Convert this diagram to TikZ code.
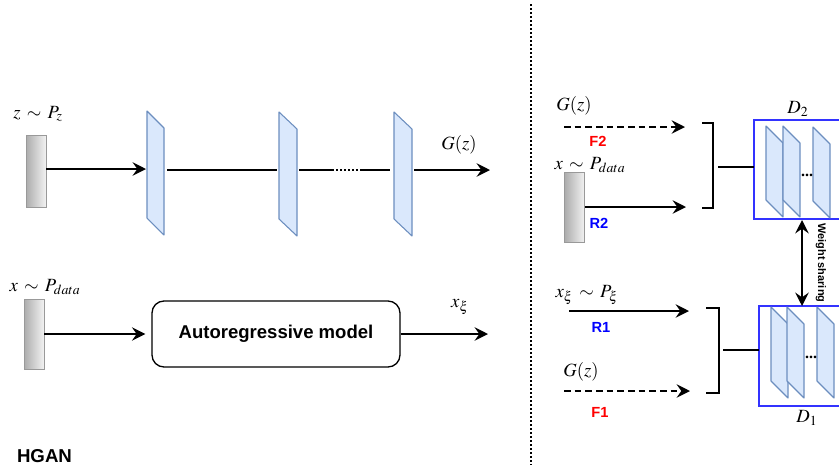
\documentclass[tikz,border=0pt]{standalone}
\usepackage{mathptmx}
\usepackage[no-math]{fontspec}
\setmainfont{Liberation Serif}
\setsansfont{Liberation Sans}
\usetikzlibrary{arrows.meta}
\definecolor{panelfill}{HTML}{DAE8FC}
\definecolor{paneldraw}{HTML}{6C8EBF}
\definecolor{dblue}{HTML}{3333FF}
\definecolor{fred}{HTML}{FF0000}
\definecolor{rblue}{HTML}{0000FF}
\tikzset{
  tip/.tip={Stealth[length=10pt,width=10pt,inset=3.5pt]},
  arr/.style={line width=1.6pt,-tip},
  dasharr/.style={arr,dash pattern=on 5pt off 3pt},
  plainline/.style={line width=1.6pt},
  panelst/.style={fill=panelfill,draw=paneldraw,line width=0.8pt,line join=round},
  bar/.style={draw=gray!80,line width=0.7pt,left color=gray!65,right color=gray!10,minimum width=15pt,inner sep=0pt},
  mlabel/.style={font=\fontsize{14}{16}\selectfont,inner sep=0pt},
  blabel/.style={font=\sffamily\bfseries\fontsize{11}{13}\selectfont,inner sep=0pt},
  dbox/.style={draw=dblue,line width=1.1pt},
}
\newcommand{\panelat}[4]{% x, y top-left, width, left height
  \draw[panelst] (#1,#2) -- ++(#3,17) -- ++(0,#4) -- ++(-#3,-17) -- cycle;}
\begin{document}
\begin{tikzpicture}[x=0.75pt,y=-0.75pt]
\useasboundingbox (0,0) rectangle (839,465);
% separator
\draw[line width=1.5pt,dash pattern=on 1.5pt off 1.5pt] (531,4) -- (531,465);

% ---------- left: generator ----------
\node[bar,minimum height=54pt] (zbar) at (36,171) {};
\node[mlabel] (zlab) at (38,114) {$z\,\sim\,P_z$};
\panelat{147}{111}{17}{107}
\panelat{279}{112}{18}{107}
\panelat{394}{112}{18}{107}
\coordinate (p1in) at (146,169);
\coordinate (p1out) at (167,170);
\coordinate (p2in) at (277,170);
\coordinate (p2out) at (299,170);
\coordinate (d1) at (332,170);
\coordinate (d2) at (362,170);
\coordinate (p3in) at (390,170);
\coordinate (p3out) at (414,170);
\coordinate (gout) at (490,170);
\draw[arr] (zbar.east |- p1in) -- (p1in);
\draw[plainline] (p1out) -- (p2in);
\draw[plainline] (p2out) -- (d1);
\draw[line width=1.5pt,dash pattern=on 1.5pt off 1.5pt] (d1) -- (d2);
\draw[plainline] (d2) -- (p3in);
\draw[arr] (p3out) -- (gout);
\node[mlabel] (gz1) at (459,145) {$G(z)$};

% ---------- left: autoregressive ----------
\node[bar,minimum height=53pt] (xbar) at (34,334.5) {};
\node[mlabel] (xlab) at (45,287) {$x\,\sim\,P_{data}$};
\node[draw,line width=1pt,rounded corners=9pt,minimum width=186pt,minimum height=49.5pt,
      font=\sffamily\bfseries\fontsize{13.9}{16}\selectfont] (ar) at (276,334) {Autoregressive model};
\coordinate (xout) at (488,334);
\draw[arr] (xbar.east |- ar.west) -- ([xshift=-4.5pt]ar.west);
\draw[arr] (ar.east) -- (xout);
\node[mlabel] (xxi) at (460,307) {$x_\xi$};
\node[font=\sffamily\bfseries\fontsize{14}{16}\selectfont,inner sep=0pt] (hgan) at (44.5,456) {HGAN};

% ---------- right: D2 ----------
\node[mlabel] (gz2) at (574,106) {$G(z)$};
\coordinate (f2s) at (564,127);
\coordinate (f2e) at (685,127);
\draw[dasharr] (f2s) -- (f2e);
\node[blabel,text=fred] (f2) at (598,141) {F2};
\node[mlabel] (xlab2) at (590,165) {$x\,\sim\,P_{data}$};
\node[bar,minimum height=53pt] (rbar) at (574.5,207.5) {};
\coordinate (r2e) at (686,207);
\draw[arr] (rbar.east |- r2e) -- (r2e);
\node[blabel,text=rblue] (r2) at (599,223) {R2};
\draw[plainline] (702,123) -- (713,123) -- (713,208) -- (702,208);
\draw[dbox] (754,120) rectangle (842,219);
\coordinate (d2box) at (754,167);
\draw[plainline] (718,167) -- (d2box);
\panelat{766}{126}{17}{74}
\panelat{783}{126}{17}{74}
\panelat{813}{127}{17}{74}
\node[inner sep=0pt,font=\bfseries\fontsize{12}{12}\selectfont] (dots2) at (807,175) {...};
\node[mlabel] (dtwo) at (798,109) {$D_2$};

% ---------- right: D1 ----------
\node[mlabel] (xxi2) at (587,295) {$x_\xi\,\sim\,P_\xi$};
\coordinate (r1s) at (569,311);
\coordinate (r1e) at (689,311);
\draw[arr] (r1s) -- (r1e);
\node[blabel,text=rblue] (r1) at (601,327) {R1};
\node[mlabel] (gz3) at (581,372) {$G(z)$};
\coordinate (f1s) at (564,391);
\coordinate (f1e) at (690,391);
\draw[dasharr] (f1s) -- (f1e);
\node[blabel,text=fred] (f1) at (600,412) {F1};
\draw[plainline] (706,308) -- (719,308) -- (719,393) -- (706,393);
\draw[dbox] (759,306) rectangle (842,406);
\coordinate (d1box) at (759,350);
\draw[plainline] (723,350) -- (d1box);
\panelat{771}{307}{17}{74}
\panelat{787}{307}{17}{74}
\panelat{817}{307}{17}{74}
\node[inner sep=0pt,font=\bfseries\fontsize{12}{12}\selectfont] (dots1) at (811,357) {...};
\node[mlabel] (done) at (807,418) {$D_1$};

% weight sharing
\coordinate (wtop) at (802,220);
\coordinate (wbot) at (802,306);
\draw[line width=1.6pt,tip-tip] (wtop) -- (wbot);
\node[rotate=-90,inner sep=0pt,font=\sffamily\bfseries\fontsize{8.2}{10}\selectfont] (ws) at (821,263) {Weight sharing};
\end{tikzpicture}
\end{document}
